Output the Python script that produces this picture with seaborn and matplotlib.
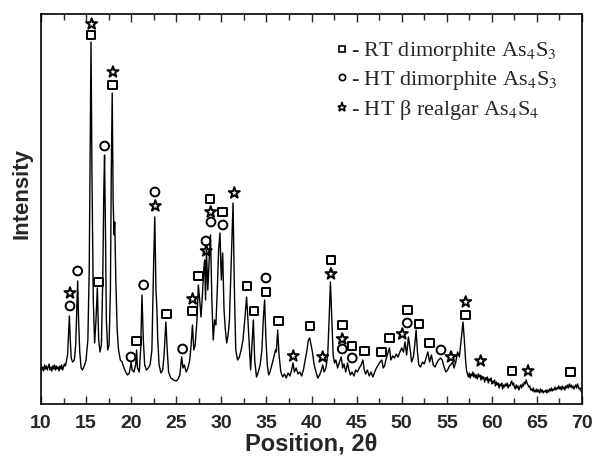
import numpy as np
import pandas as pd
import matplotlib
matplotlib.use("Agg")
import matplotlib.pyplot as plt
from matplotlib.lines import Line2D
from matplotlib.ticker import MultipleLocator
import seaborn as sns

# ---- data (2theta, intensity a.u.) ----
two_theta = [10.0, 10.1, 10.2, 10.3, 10.4, 10.5, 10.6, 10.7, 10.8, 10.9, 11.0, 11.1, 11.2, 11.3, 11.4,
             11.5, 11.6, 11.7, 11.8, 11.9, 12.0, 12.1, 12.2, 12.3, 12.4, 12.5, 12.6, 12.7, 12.8,
             12.95, 13.05, 13.15, 13.25, 13.35, 13.5, 13.7, 13.85, 13.97, 14.07, 14.17, 14.3, 14.45, 14.6,
             14.8, 15.0, 15.2, 15.35, 15.45, 15.55, 15.65, 15.8, 15.95, 16.1, 16.25, 16.4, 16.55, 16.7,
             16.85, 16.97, 17.05, 17.15, 17.25, 17.4, 17.55, 17.7, 17.8, 17.9, 18.0, 18.1, 18.18, 18.3,
             18.45, 18.6, 18.8, 19.0, 19.2, 19.4, 19.6, 19.8, 20.0, 20.1, 20.3, 20.5, 20.6, 20.7, 20.9,
             21.05, 21.2, 21.35, 21.5, 21.7, 21.9, 22.1, 22.3, 22.5, 22.62, 22.75, 22.85, 22.95, 23.1,
             23.3, 23.5, 23.65, 23.85, 24.0, 24.15, 24.4, 24.7, 25.0, 25.2, 25.4, 25.6, 25.75, 25.9, 26.1,
             26.3, 26.5, 26.65, 26.8, 26.95, 27.1, 27.3, 27.45, 27.6, 27.75, 27.9, 28.05, 28.15, 28.25,
             28.35, 28.5, 28.65, 28.8, 28.95, 29.1, 29.25, 29.4, 29.55, 29.7, 29.85, 30.0, 30.15, 30.3,
             30.45, 30.6, 30.75, 30.9, 31.1, 31.3, 31.45, 31.6, 31.8, 32.0, 32.2, 32.4, 32.6, 32.8, 32.95,
             33.1, 33.25, 33.4, 33.55, 33.7, 33.9, 34.1, 34.3, 34.5, 34.65, 34.8, 34.95, 35.1, 35.25, 35.4,
             35.6, 35.8, 36.0, 36.1, 36.25, 36.4, 36.6, 36.8, 37.0, 37.2, 37.4, 37.6, 37.8, 37.95, 38.1,
             38.3, 38.5, 38.7, 38.9, 39.1, 39.3, 39.5, 39.65, 39.8, 39.95, 40.1, 40.3, 40.5, 40.7, 40.9,
             41.1, 41.25, 41.4, 41.6, 41.8, 41.95, 42.1, 42.25, 42.4, 42.55, 42.7, 42.9, 43.1, 43.3, 43.45,
             43.6, 43.8, 44.0, 44.15, 44.3, 44.5, 44.7, 44.9, 45.1, 45.3, 45.5, 45.7, 45.85, 46.0, 46.2,
             46.4, 46.6, 46.8, 47.0, 47.2, 47.4, 47.6, 47.8, 47.95, 48.1, 48.3, 48.5, 48.65, 48.8, 49.0,
             49.2, 49.4, 49.6, 49.8, 50.0, 50.2, 50.37, 50.55, 50.75, 50.95, 51.1, 51.3, 51.45, 51.6,
             51.75, 51.9, 52.1, 52.3, 52.5, 52.7, 52.9, 53.1, 53.3, 53.5, 53.7, 53.9, 54.1, 54.3, 54.5,
             54.7, 54.9, 55.1, 55.3, 55.5, 55.65, 55.8, 56.0, 56.2, 56.4, 56.6, 56.8, 56.95, 57.1, 57.2,
             57.3, 57.4, 57.5, 57.6, 57.7, 57.8, 57.9, 58.0, 58.1, 58.2, 58.3, 58.4, 58.5, 58.6, 58.7,
             58.8, 58.9, 59.0, 59.1, 59.2, 59.3, 59.4, 59.5, 59.6, 59.7, 59.8, 59.9, 60.0, 60.1, 60.2,
             60.3, 60.4, 60.5, 60.6, 60.7, 60.8, 60.9, 61.0, 61.1, 61.2, 61.3, 61.4, 61.5, 61.6, 61.7,
             61.8, 61.9, 62.0, 62.1, 62.2, 62.3, 62.4, 62.5, 62.6, 62.7, 62.8, 62.9, 63.0, 63.1, 63.2,
             63.3, 63.4, 63.5, 63.6, 63.7, 63.8, 63.9, 64.0, 64.1, 64.2, 64.3, 64.4, 64.5, 64.6, 64.7,
             64.8, 64.9, 65.0, 65.1, 65.2, 65.3, 65.4, 65.5, 65.6, 65.7, 65.8, 65.9, 66.0, 66.1, 66.2,
             66.3, 66.4, 66.5, 66.6, 66.7, 66.8, 66.9, 67.0, 67.1, 67.2, 67.3, 67.4, 67.5, 67.6, 67.7,
             67.8, 67.9, 68.0, 68.1, 68.2, 68.3, 68.4, 68.5, 68.6, 68.7, 68.8, 68.9, 69.0, 69.1, 69.2,
             69.3, 69.4, 69.5, 69.6, 69.7, 69.8, 69.9, 70.0]
intensity = [38, 34, 37, 33, 39, 35, 38, 34, 37, 40, 34, 37, 33, 38, 35,
             39, 34, 38, 35, 37, 33, 38, 35, 39, 34, 37, 40, 38, 42,
             49, 69, 88, 64, 46, 42, 44, 59, 94, 123, 84, 52, 36, 34,
             38, 44, 64, 134, 254, 362, 234, 104, 61, 84, 116, 64, 52, 59,
             124, 214, 249, 174, 84, 54, 59, 114, 234, 311, 204, 169, 182, 124,
             74, 54, 44, 42, 36, 32, 29, 31, 42, 34, 32, 39, 54, 36, 32,
             54, 109, 64, 39, 34, 36, 39, 54, 144, 187, 114, 97, 64, 39,
             31, 34, 49, 82, 54, 32, 26, 24, 23, 25, 29, 47, 36, 39, 32,
             36, 44, 59, 79, 54, 59, 84, 119, 104, 87, 109, 134, 144, 104,
             154, 114, 144, 169, 104, 64, 84, 79, 114, 154, 171, 124, 151, 94,
             74, 61, 69, 84, 144, 201, 114, 54, 44, 47, 54, 64, 84, 107, 84,
             59, 34, 59, 84, 44, 27, 32, 39, 54, 84, 104, 64, 39, 29, 32,
             39, 46, 54, 52, 74, 49, 32, 27, 30, 26, 31, 28, 34, 41, 32,
             36, 30, 32, 28, 34, 44, 54, 64, 66, 59, 52, 39, 32, 26, 29,
             34, 39, 32, 36, 49, 84, 122, 84, 49, 41, 44, 36, 42, 47, 36,
             40, 32, 41, 34, 29, 32, 28, 34, 32, 36, 39, 44, 34, 30, 34,
             28, 32, 27, 32, 36, 39, 42, 44, 36, 38, 46, 52, 56, 44, 48,
             46, 50, 47, 52, 56, 52, 62, 49, 67, 54, 42, 47, 59, 74,
             52, 39, 37, 42, 40, 46, 52, 42, 49, 39, 37, 41, 44, 46, 44,
             37, 32, 34, 38, 40, 42, 36, 42, 52, 47, 64, 82, 64, 42, 33,
             30, 27, 31, 26, 30, 28, 32, 27, 30, 26, 29, 25, 30, 27, 29,
             24, 28, 25, 27, 22, 26, 24, 27, 21, 25, 23, 26, 20, 23, 21,
             24, 18, 22, 19, 21, 16, 20, 18, 21, 15, 19, 17, 20, 18, 21,
             16, 19, 18, 21, 23, 19, 21, 17, 15, 19, 16, 18, 14, 17, 19,
             16, 20, 18, 22, 20, 24, 21, 19, 17, 18, 14, 15, 13, 16, 12,
             14, 12, 15, 12, 14, 11, 15, 12, 14, 11, 13, 12, 14, 11, 14,
             12, 15, 13, 16, 13, 15, 14, 17, 14, 16, 15, 18, 15, 17, 14,
             18, 15, 17, 14, 18, 16, 19, 16, 20, 17, 19, 16, 18, 15, 17,
             19, 16, 20, 17, 15, 16, 13, 12]

# phase markers
rt_pos = [15.55, 17.91, 16.35, 20.61, 23.94, 26.78, 27.49, 28.74, 30.15, 32.85, 33.62, 34.95, 36.36,
          39.83, 42.16, 43.41, 44.49, 45.85, 47.78, 48.67, 50.62, 51.92, 53.06, 57.1, 62.23, 68.7]
rt_int = [369, 319, 122, 63, 90, 93, 128, 205, 192, 118, 93, 112, 83,
          78, 144, 79, 58, 53, 52, 66, 94, 80, 61, 89, 33, 32]
ht_pos = [13.22, 14.07, 17.06, 19.98, 21.39, 22.64, 25.71, 28.3, 28.85, 30.18, 34.95, 43.41, 44.52,
          50.62, 54.36]
ht_int = [98, 133, 258, 47, 119, 212, 55, 163, 182, 179, 126, 55, 46, 81, 54]
rg_pos = [13.22, 15.62, 17.98, 22.68, 26.82, 28.33, 28.82, 31.44, 37.98, 41.24, 42.16, 43.41, 50.07,
          55.47, 57.1, 58.76, 64.01]
rg_int = [111, 380, 332, 198, 105, 153, 192, 211, 48, 47, 130, 65, 70, 47, 102, 43, 33]

legend_labels = ["- RT dimorphite As$_4$S$_3$", "- HT dimorphite As$_4$S$_3$",
                 "- HT \u03b2 realgar As$_4$S$_4$"]
x_ticks = [10, 15, 20, 25, 30, 35, 40, 45, 50, 55, 60, 65, 70]

# ---- plotting ----
sns.set_theme(style="white")
plt.rcParams["font.family"] = ["Liberation Sans", "DejaVu Sans"]
plt.rcParams["mathtext.fontset"] = "stix"

fig = plt.figure(figsize=(5.93, 4.57), dpi=100)
ax = fig.add_axes([0.0691, 0.116, 0.9124, 0.8534])

df = pd.DataFrame({"x": two_theta, "y": intensity})
sns.lineplot(data=df, x="x", y="y", ax=ax, color="black", linewidth=1.0, sort=False)

common = dict(facecolor="none", edgecolor="black", linewidth=1.4, legend=False, zorder=3)
sns.scatterplot(x=rt_pos, y=rt_int, marker="s", s=40, ax=ax, **common)
sns.scatterplot(x=ht_pos, y=ht_int, marker="o", s=40, ax=ax, **common)
sns.scatterplot(x=rg_pos, y=rg_int, marker="*", s=70, ax=ax, **common)

ax.set_xlim(10, 70)
ax.set_ylim(0, 390)
ax.set_xticks(x_ticks)
ax.xaxis.set_minor_locator(MultipleLocator(2.5))
ax.set_yticks([])
ax.tick_params(axis="x", which="both", direction="in", top=True, bottom=True,
               labelsize=14, pad=8)
ax.tick_params(axis="x", which="major", length=6, width=1.0)
ax.tick_params(axis="x", which="minor", length=4, width=1.0)
for lab in ax.get_xticklabels():
    lab.set_fontweight("bold")
for sp in ax.spines.values():
    sp.set_color("black")
    sp.set_linewidth(1.2)

ax.set_xlabel("Position, 2\u03b8", fontsize=17, fontweight="bold", labelpad=0)
ax.set_ylabel("Intensity", fontsize=16, fontweight="bold")
ax.yaxis.set_label_coords(-0.015, 0.54)

handles = [Line2D([], [], marker=m, linestyle="none", markerfacecolor="none",
                  markeredgecolor="black", markersize=ms, markeredgewidth=1.2)
           for m, ms in (("s", 4.5), ("o", 4.5), ("*", 6.5))]
ax.legend(handles, legend_labels, loc="upper right", bbox_to_anchor=(0.972, 0.955),
          frameon=False, handlelength=0.6, handletextpad=0.1, labelspacing=0.25,
          borderaxespad=0.0, prop={"family": "Liberation Serif", "size": 16})

fig.savefig("out.png", dpi=100)
